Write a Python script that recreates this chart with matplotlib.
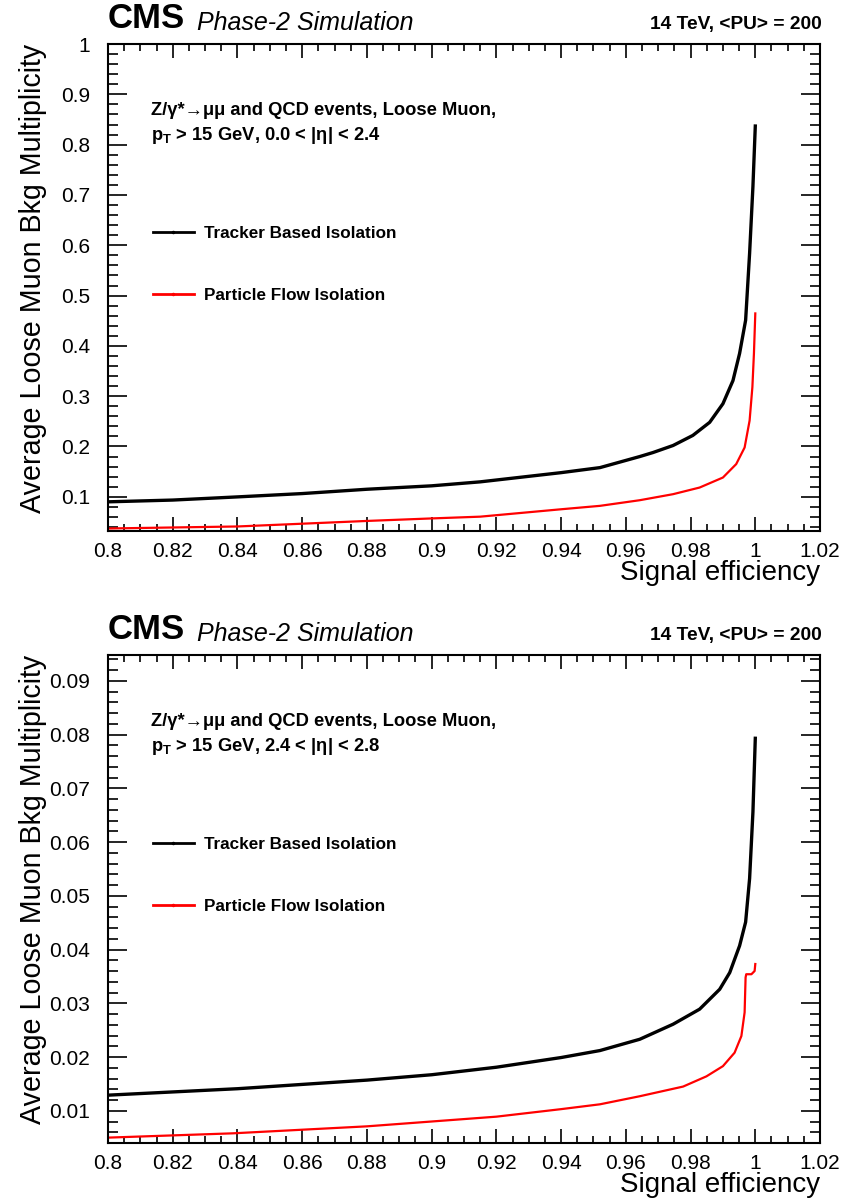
import matplotlib
matplotlib.use("Agg")
from matplotlib import pyplot as plt
from matplotlib.lines import Line2D
from matplotlib.ticker import MultipleLocator, FormatStrFormatter
import numpy as np

plt.rcParams['font.family'] = ['Liberation Sans', 'DejaVu Sans']
plt.rcParams['mathtext.fontset'] = 'custom'
plt.rcParams['mathtext.rm'] = 'Liberation Sans'
plt.rcParams['mathtext.it'] = 'Liberation Sans:italic'
plt.rcParams['mathtext.bf'] = 'Liberation Sans:bold'

# panel 1: 0.0 < |eta| < 2.4
eff_trk_1 = [0.8, 0.82, 0.84, 0.86, 0.88, 0.90, 0.915, 0.94, 0.952, 0.9643, 0.9684, 0.9746,
             0.9807, 0.9859, 0.990, 0.9931, 0.99515, 0.99701, 0.99824, 0.99927, 1.0]
bkg_trk_1 = [0.090, 0.0935, 0.0998, 0.1064, 0.115, 0.1218, 0.1297, 0.148, 0.158, 0.180, 0.188, 0.202,
             0.222, 0.248, 0.285, 0.331, 0.385, 0.451, 0.584, 0.717, 0.837]
eff_pf_1 = [0.8, 0.84, 0.88, 0.90, 0.915, 0.94, 0.952, 0.9643, 0.9746, 0.9828, 0.990,
            0.9941, 0.9967, 0.99824, 0.9991, 0.99958, 1.0]
bkg_pf_1 = [0.037, 0.041, 0.052, 0.057, 0.0605, 0.0752, 0.082, 0.0932, 0.1052, 0.1184, 0.1383,
            0.165, 0.198, 0.2515, 0.318, 0.385, 0.4645]

# panel 2: 2.4 < |eta| < 2.8
eff_trk_2 = [0.8, 0.82, 0.84, 0.86, 0.88, 0.90, 0.92, 0.94, 0.952, 0.9643, 0.9746, 0.9828,
             0.989, 0.9921, 0.99515, 0.99701, 0.99824, 0.99927, 1.0]
bkg_trk_2 = [0.0129, 0.0135, 0.0141, 0.0149, 0.0157, 0.0167, 0.0181, 0.0199, 0.0212, 0.0233, 0.0261, 0.0289,
             0.0326, 0.0357, 0.0407, 0.0451, 0.0532, 0.0656, 0.0793]
eff_pf_2 = [0.8, 0.8386, 0.88, 0.90, 0.92, 0.94, 0.952, 0.9643, 0.9777, 0.9849, 0.990,
            0.9936, 0.9957, 0.9967, 0.9970, 0.9972, 0.9988, 0.99979, 1.0]
bkg_pf_2 = [0.0050, 0.0058, 0.0071, 0.0080, 0.0089, 0.0103, 0.0112, 0.0127, 0.0145, 0.0164, 0.0183,
            0.0208, 0.0239, 0.0283, 0.0348, 0.0354, 0.0354, 0.0360, 0.0373]

regions = ['0.0 < |η| < 2.4', '2.4 < |η| < 2.8']
ylims = [(0.032, 1.0), (0.004, 0.0948)]
ymajor = [0.1, 0.01]
yminor = [0.02, 0.002]

fig = plt.figure(figsize=(8.42, 12), dpi=100)
ax1 = fig.add_axes([0.1283, 0.5575, 0.8456, 0.4058])
ax2 = fig.add_axes([0.1283, 0.0475, 0.8456, 0.4067])

curves = [(eff_trk_1, bkg_trk_1, eff_pf_1, bkg_pf_1),
          (eff_trk_2, bkg_trk_2, eff_pf_2, bkg_pf_2)]

for i, ax in enumerate([ax1, ax2]):
    et, bt, ep, bp = curves[i]
    ax.plot(et, bt, color='black', lw=2.4, solid_joinstyle='round')
    ax.plot(ep, bp, color='#ff0000', lw=1.6, solid_joinstyle='round')

    ax.set_xlim(0.8, 1.02)
    ax.set_ylim(*ylims[i])
    ax.xaxis.set_major_locator(MultipleLocator(0.02))
    ax.xaxis.set_minor_locator(MultipleLocator(0.005))
    ax.yaxis.set_major_locator(MultipleLocator(ymajor[i]))
    ax.yaxis.set_minor_locator(MultipleLocator(yminor[i]))
    ax.xaxis.set_major_formatter(FormatStrFormatter('%g'))
    ax.yaxis.set_major_formatter(FormatStrFormatter('%g'))
    ax.tick_params(which='both', direction='in', top=True, right=True, width=1.2, labelsize=15)
    ax.tick_params(axis='x', which='major', length=10, pad=8)
    ax.tick_params(axis='x', which='minor', length=5)
    ax.tick_params(axis='y', which='major', length=14, pad=13)
    ax.tick_params(axis='y', which='minor', length=7)
    for sp in ax.spines.values():
        sp.set_linewidth(1.5)

    ax.text(0.0, 1.018, 'CMS', transform=ax.transAxes, fontsize=25, fontweight='bold',
            ha='left', va='bottom')
    ax.text(0.125, 1.018, 'Phase-2 Simulation', transform=ax.transAxes, fontsize=18,
            style='italic', ha='left', va='bottom')
    ax.text(1.003, 1.022, '14 TeV, <PU> = 200', transform=ax.transAxes, fontsize=13.8,
            fontweight='bold', ha='right', va='bottom')

    ax.text(-0.106, 1.0, 'Average Loose Muon Bkg Multiplicity', transform=ax.transAxes,
            rotation=90, fontsize=20.6, ha='center', va='top')
    ax.text(1.0, -0.086, 'Signal efficiency', transform=ax.transAxes, fontsize=20,
            ha='right', va='center')

    ax.text(0.061, 0.8645, 'Z/γ*→μμ and QCD events, Loose Muon,',
            transform=ax.transAxes, fontsize=13.2, fontweight='bold', ha='left', va='center')
    ax.text(0.061, 0.812, r'p$_{\mathbf{T}}$ > 15 GeV, ' + regions[i],
            transform=ax.transAxes, fontsize=13.2, fontweight='bold', ha='left', va='center')

    handles = [Line2D([], [], color='black', lw=2.0, marker='.', markersize=3),
               Line2D([], [], color='#ff0000', lw=2.0, marker='.', markersize=3)]
    leg = ax.legend(handles, ['Tracker Based Isolation', 'Particle Flow Isolation'],
                    loc='center left', bbox_to_anchor=(0.0627, 0.548), frameon=False,
                    borderpad=0, borderaxespad=0, handlelength=2.4, handletextpad=0.6,
                    labelspacing=2.75, numpoints=1, prop={'weight': 'bold', 'size': 12.3})

fig.savefig('out.png', dpi=100)
